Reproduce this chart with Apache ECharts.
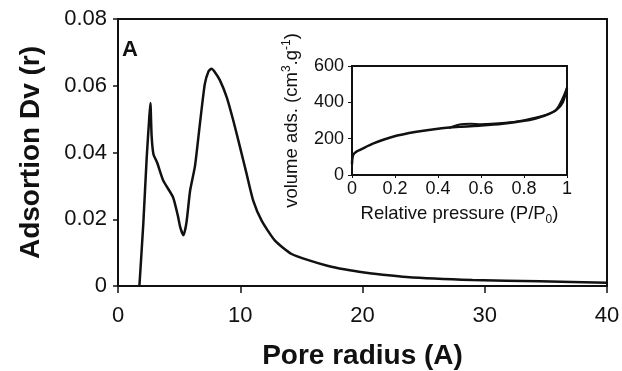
<!DOCTYPE html>
<html><head><meta charset="utf-8">
<script src="https://cdn.jsdelivr.net/npm/echarts@6/dist/echarts.min.js"></script>
<style>html,body{margin:0;padding:0;background:#fff}#c{width:622px;height:371px}</style>
</head><body><div id="c"></div>
<script>
// Main: pore size distribution
const poreRadius = [1.75, 2.07, 2.35, 2.55, 2.65, 2.75, 2.9, 3.2, 3.7, 4.5, 4.9, 5.1, 5.35, 5.6, 5.9, 6.3, 6.7, 7.1, 7.4, 7.65, 7.9, 8.34, 8.89, 9.43, 9.98, 10.52, 11.06, 11.75, 12.84, 14.2, 15.7, 17.2, 18.5, 20, 23.6, 29, 34.5, 40];
const adsorptionDv = [0, 0.0187, 0.0386, 0.050, 0.0548, 0.045, 0.0395, 0.037, 0.0316, 0.0266, 0.021, 0.0175, 0.0152, 0.019, 0.0286, 0.036, 0.0486, 0.0605, 0.0643, 0.0651, 0.0642, 0.0616, 0.0566, 0.0496, 0.0416, 0.0336, 0.0256, 0.0196, 0.0136, 0.0096, 0.0076, 0.0060, 0.0050, 0.0041, 0.0027, 0.0018, 0.0014, 0.0010];
// Inset: isotherm
const adsP = [0, 0.005, 0.02, 0.04, 0.1, 0.19, 0.3, 0.4, 0.5, 0.6, 0.7, 0.8, 0.85, 0.9, 0.95, 0.98, 1.0];
const adsV = [60, 110, 128, 140, 174, 211, 238, 255, 265, 272, 282, 298, 310, 328, 358, 400, 480];
const desP = [0.45, 0.5, 0.55, 0.6, 0.7, 0.8, 0.9, 0.95, 1.0];
const desV = [258, 278, 282, 280, 286, 302, 330, 360, 480];

const zip = (a, b) => a.map((x, i) => [x, b[i]]);
const ff = 'Liberation Sans, Arial, sans-serif';
const chart = echarts.init(document.getElementById('c'), null, {renderer: 'canvas'});
const axLine = {show: true, lineStyle: {color: '#111', width: 2}};
chart.setOption({
  animation: false,
  backgroundColor: '#fff',
  grid: [
    {left: 118, top: 19, width: 489, height: 267, show: true, borderColor: '#111', borderWidth: 2, backgroundColor: 'transparent', containLabel: false, outerBoundsMode: 'none'},
    {left: 352, top: 66, width: 215, height: 109, show: true, borderColor: '#111', borderWidth: 2, backgroundColor: '#fff', containLabel: false, outerBoundsMode: 'none'}
  ],
  xAxis: [
    {gridIndex: 0, type: 'value', min: 0, max: 40, interval: 10,
     axisLine: axLine, axisTick: {show: true, length: 7, lineStyle: {color: '#111', width: 1.5}},
     splitLine: {show: false},
     axisLabel: {color: '#111', fontSize: 22, fontFamily: ff, margin: 19},
     name: 'Pore radius (A)', nameLocation: 'middle', nameGap: 56,
     nameTextStyle: {color: '#111', fontSize: 28, fontWeight: 'bold', fontFamily: ff}},
    {gridIndex: 1, type: 'value', min: 0, max: 1, interval: 0.2,
     axisLine: axLine, axisTick: {show: true, length: 3, lineStyle: {color: '#111'}},
     splitLine: {show: false},
     axisLabel: {color: '#111', fontSize: 18, fontFamily: ff, margin: 5},
     name: '{a|Relative pressure (P/P}{b|0}{a|)}', nameLocation: 'middle', nameGap: 27,
     nameTextStyle: {rich: {a: {color: '#111', fontSize: 18.5, fontFamily: ff}, b: {color: '#111', fontSize: 12, fontFamily: ff, verticalAlign: 'bottom', padding: [12, 0, 0, 0]}}}}
  ],
  yAxis: [
    {gridIndex: 0, type: 'value', min: 0, max: 0.08, interval: 0.02,
     axisLine: axLine, axisTick: {show: true, length: 5, lineStyle: {color: '#111', width: 1.5}},
     splitLine: {show: false},
     axisLabel: {color: '#111', fontSize: 22, fontFamily: ff, margin: 11,
       formatter: v => v === 0 ? '0' : v.toFixed(2)},
     name: 'Adsortion Dv (r)', nameLocation: 'middle', nameGap: 73, nameRotate: 90,
     nameTextStyle: {color: '#111', fontSize: 28, fontWeight: 'bold', fontFamily: ff}},
    {gridIndex: 1, type: 'value', min: 0, max: 600, interval: 200,
     axisLine: axLine, axisTick: {show: true, length: 4, lineStyle: {color: '#111'}},
     splitLine: {show: false},
     axisLabel: {color: '#111', fontSize: 18, fontFamily: ff, margin: 8},
     name: '{a|volume ads. (cm}{b|3}{a|.g}{b|-1}{a|)}', nameLocation: 'middle', nameGap: 50, nameRotate: 90,
     nameTextStyle: {rich: {a: {color: '#111', fontSize: 18.5, fontFamily: ff}, b: {color: '#111', fontSize: 12, fontFamily: ff, verticalAlign: 'top', padding: [0, 0, 9, 0]}}}}
  ],
  graphic: [
    {type: 'text', left: 122, top: 39, style: {text: 'A', font: 'bold 22px ' + ff, fill: '#111'}}
  ],
  series: [
    {type: 'line', xAxisIndex: 0, yAxisIndex: 0, data: zip(poreRadius, adsorptionDv), showSymbol: false, smooth: 0.2,
     lineStyle: {color: '#111', width: 2.5}},
    {type: 'line', xAxisIndex: 1, yAxisIndex: 1, data: zip(adsP, adsV), showSymbol: false, smooth: 0.3,
     lineStyle: {color: '#111', width: 2.5}},
    {type: 'line', xAxisIndex: 1, yAxisIndex: 1, data: zip(desP, desV), showSymbol: false, smooth: 0.3,
     lineStyle: {color: '#111', width: 2}}
  ]
});
</script></body></html>
